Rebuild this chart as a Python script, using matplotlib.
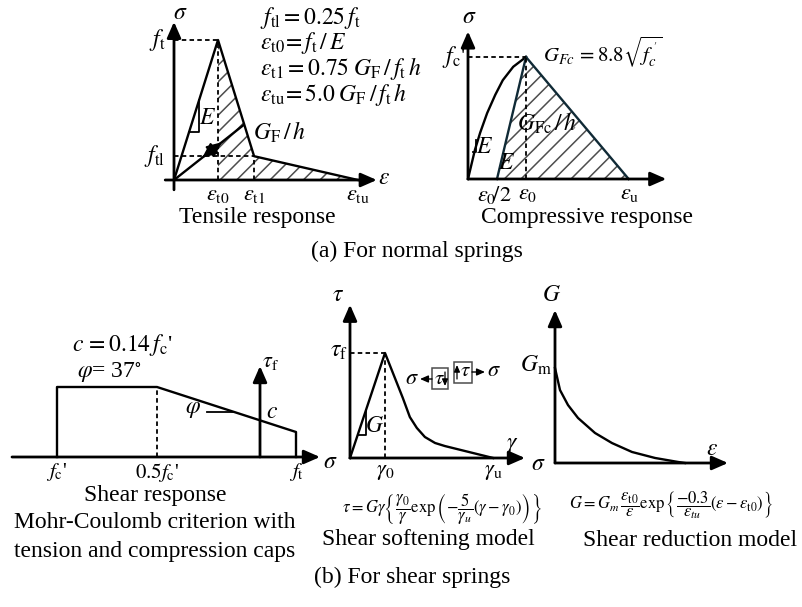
#!/usr/bin/env python3
# -*- coding: utf-8 -*-

import numpy as np
import matplotlib as mpl
from matplotlib import pyplot as plt
from matplotlib.patches import Polygon, Rectangle

W, H = 803, 607

plt.rcParams['font.family'] = ['Liberation Serif', 'DejaVu Serif']
plt.rcParams['mathtext.fontset'] = 'stix'
plt.rcParams['hatch.linewidth'] = 1.1

# tensile response (strain / eps_t0, stress / f_t)
tens_eps = [0.0, 1.0, 1.82, 4.18]
tens_sig = [0.0, 1.0, 0.17, 0.0]
tens_unload_eps = [0.0, 1.57]
tens_unload_sig = [0.0, 0.39]

# compressive response (strain / eps_0, stress / f_c')
comp_eps = [0.0, 0.12, 0.21, 0.33, 0.47, 0.60, 0.78, 1.0]
comp_sig = [0.0, 0.24, 0.38, 0.54, 0.69, 0.81, 0.92, 1.0]
comp_eps_half = 0.5
comp_eps_u = 2.77

# Mohr-Coulomb envelope with caps
mc_sig = [-2.03, -2.03, -1.03, 0.36, 0.36]
mc_tau = [0.0, 0.70, 0.70, 0.25, 0.0]

# shear softening (gamma / gamma_0, tau / tau_f)
soft_gam = [0.0, 1.0, 1.51, 1.71, 1.91, 2.14, 2.43, 2.71, 4.09]
soft_tau = [0.0, 1.0, 0.571, 0.39, 0.286, 0.20, 0.143, 0.114, 0.0]

# shear reduction (G / G_m)
red_eps = [0.0, 0.05, 0.13, 0.23, 0.40, 0.57, 0.77, 1.00, 1.23, 1.30]
red_G = [1.0, 0.768, 0.61, 0.474, 0.316, 0.21, 0.116, 0.053, 0.011, 0.0]

LW = 1.7
DASH = dict(color='k', lw=1.3, ls=(0, (2.5, 1.8)))

fig = plt.figure(figsize=(W/100, H/100), dpi=100)


def panel(ox, oy, sx, sy, x0, x1, y0, y1):
    ax = fig.add_axes([(ox + x0*sx)/W, (H - oy + y0*sy)/H,
                       (x1 - x0)*sx/W, (y1 - y0)*sy/H])
    ax.set_xlim(x0, x1)
    ax.set_ylim(y0, y1)
    ax.axis('off')
    return ax


def arrow(ax, p0, p1, lw=2.0, scale=12, style='-|>,head_length=0.8,head_width=0.35'):
    ax.annotate('', xy=p1, xytext=p0, annotation_clip=False,
                arrowprops=dict(arrowstyle=style, lw=lw, color='k',
                                shrinkA=0, shrinkB=0, mutation_scale=scale))


def hatch(ax, pts):
    ax.add_patch(Polygon(pts, closed=True, fill=False, hatch='//',
                         edgecolor='0.3', lw=0))


# ---- tensile ----
ax = panel(174, 180, 44, 140, -0.6, 4.9, -0.25, 1.3)
hatch(ax, [(tens_eps[1], 0)] + list(zip(tens_eps[1:], tens_sig[1:])))
ax.plot(tens_eps, tens_sig, 'k', lw=LW)
ax.plot([0, tens_eps[1]], [tens_sig[1]]*2, **DASH)
ax.plot([tens_eps[1]]*2, [0, tens_sig[1]], **DASH)
ax.plot([0, tens_eps[2]], [tens_sig[2]]*2, **DASH)
ax.plot([tens_eps[2]]*2, [0, tens_sig[2]], **DASH)
ax.plot(tens_unload_eps, tens_unload_sig, 'k', lw=LW)
arrow(ax, (1.09, 0.27), (0.64, 0.159), lw=1.5, scale=10, style='<|-|>,head_length=0.9,head_width=0.4')
ax.plot([0.57, 0.57, 0.34], [0.57, 0.34, 0.34], 'k', lw=1.3)
arrow(ax, (-0.2, 0), (4.61, 0))
arrow(ax, (0, -0.07), (0, 1.13))
ax.text(0.14, 1.19, r'$\sigma$', fontsize=17, ha='center', va='center')
ax.text(-0.2, 1.0, r'$f_{\rm t}$', fontsize=17, ha='right', va='center')
ax.text(-0.2, 0.17, r'$f_{\rm tl}$', fontsize=17, ha='right', va='center')
for e, s in zip(tens_eps[1:], [r'$\varepsilon_{\rm t0}$', r'$\varepsilon_{\rm t1}$', r'$\varepsilon_{\rm tu}$']):
    ax.text(e, -0.11, s, fontsize=16, ha='center', va='center')
ax.text(4.77, 0.01, r'$\varepsilon$', fontsize=17, ha='center', va='center')
ax.text(0.77, 0.44, r'$E$', fontsize=17, ha='center', va='center')
ax.text(1.8, 0.34, r'$G_{\rm F}\,/\,h$', fontsize=17, ha='left', va='center')
formulas = [r'$f_{\rm tl} = 0.25\, f_{\rm t}$',
            r'$\varepsilon_{\rm t0}\!= f_{\rm t}\,/\,E$',
            r'$\varepsilon_{\rm t1} = 0.75\;G_{\rm F}\,/\,f_{\rm t}\,h$',
            r'$\varepsilon_{\rm tu}\!= 5.0\;G_{\rm F}\,/\,f_{\rm t}\,h$']
for s, y in zip(formulas, [1.16, 0.98, 0.80, 0.614]):
    ax.text(1.95, y, s, fontsize=17, ha='left', va='center')

# ---- compressive ----
ax = panel(468, 179, 58, 122, -0.4, 3.6, -0.3, 1.45)
hatch(ax, [(comp_eps_half, 0), (comp_eps[-1], comp_sig[-1]), (comp_eps_u, 0)])
ax.plot(comp_eps, comp_sig, 'k', lw=LW)
ax.plot([comp_eps_half, comp_eps[-1]], [0, comp_sig[-1]], color='#102a36', lw=LW)
ax.plot([comp_eps[-1], comp_eps_u], [comp_sig[-1], 0], color='#102a36', lw=LW)
ax.plot([0, comp_eps[-1]], [comp_sig[-1]]*2, **DASH)
ax.plot([comp_eps[-1]]*2, [0, comp_sig[-1]], **DASH)
ax.plot([0.14, 0.14, 0.09], [0.32, 0.22, 0.22], 'k', lw=1.3)
arrow(ax, (0, 0), (3.42, 0))
arrow(ax, (0, 0), (0, 1.21))
ax.text(0.03, 1.32, r'$\sigma$', fontsize=17, ha='center', va='center')
ax.text(-0.04, 1.0, r"$f_{\rm c}$'", fontsize=17, ha='right', va='center')
ax.text(0.29, 0.26, r'$E$', fontsize=17, ha='center', va='center')
ax.text(0.67, 0.13, r'$E$', fontsize=17, ha='center', va='center')
ax.text(1.36, 0.46, r'$G_{\rm Fc}\,/\,h$', fontsize=17, ha='center', va='center')
ax.text(1.29, 1.04, r"$G_{Fc}\,=8.8\sqrt{f_c^{\,'}}$", fontsize=15, ha='left', va='center')
for e, s in zip([comp_eps_half, comp_eps[-1], comp_eps_u],
                [r'$\varepsilon_0\!/2$', r'$\varepsilon_0$', r'$\varepsilon_{\rm u}$']):
    ax.text(e + (0.02 if e != comp_eps_half else -0.04), -0.13, s, fontsize=16, ha='center', va='center')

# ---- Mohr-Coulomb ----
ax = panel(260, 457, 100, 100, -2.6, 0.8, -0.35, 1.3)
ax.plot(mc_sig, mc_tau, 'k', lw=LW)
ax.plot([mc_sig[2]]*2, [0, mc_tau[2]], **DASH)
ax.plot([-0.53, -0.26], [0.45, 0.45], 'k', lw=1.3)
arrow(ax, (-2.48, 0), (0.6, 0))
arrow(ax, (0, 0), (0, 0.91))
ax.text(-1.88, 1.12, r"$c\, =0.14\,f_{\rm c}$'", fontsize=17, ha='left', va='center')
ax.text(-1.83, 0.84, r'$\varphi$= 37$^{\circ}$', fontsize=17, ha='left', va='center')
ax.text(0.02, 0.95, r'$\tau_{\rm f}$', fontsize=16, ha='left', va='center')
ax.text(0.12, 0.44, r'$c$', fontsize=17, ha='center', va='center')
ax.text(-0.67, 0.47, r'$\varphi$', fontsize=17, ha='center', va='center')
ax.text(mc_sig[0], -0.15, r"$f_{\rm c}$'", fontsize=15, ha='center', va='center')
ax.text(mc_sig[2], -0.15, r"$0.5f_{\rm c}$'", fontsize=15, ha='center', va='center')
ax.text(mc_sig[3], -0.15, r'$f_{\rm t}$', fontsize=15, ha='center', va='center')
ax.text(0.70, -0.06, r'$\sigma$', fontsize=17, ha='center', va='center')

# ---- shear softening ----
ax = panel(350, 458, 35, 105, -0.8, 5.4, -0.35, 1.6)
ax.plot(soft_gam, soft_tau, 'k', lw=LW)
ax.plot([0, soft_gam[1]], [soft_tau[1]]*2, **DASH)
ax.plot([soft_gam[1]]*2, [0, soft_tau[1]], **DASH)
ax.plot([0.46, 0.46, 0.22], [0.46, 0.22, 0.22], 'k', lw=1.3)
arrow(ax, (0, 0), (5.0, 0))
arrow(ax, (0, 0), (0, 1.46))
ax.text(-0.35, 1.55, r'$\tau$', fontsize=17, ha='center', va='center')
ax.text(-0.06, 1.01, r'$\tau_{\rm f}$', fontsize=17, ha='right', va='center')
ax.text(0.71, 0.30, r'$G$', fontsize=17, ha='center', va='center')
ax.text(4.63, 0.12, r'$\gamma$', fontsize=17, ha='center', va='center')
ax.text(soft_gam[1], -0.14, r'$\gamma_0$', fontsize=16, ha='center', va='center')
ax.text(soft_gam[-1], -0.14, r'$\gamma_{\rm u}$', fontsize=16, ha='center', va='center')

# ---- shear reduction ----
ax = panel(555, 463, 100, 95, -0.3, 1.9, -0.3, 1.9)
ax.plot(red_eps, red_G, 'k', lw=LW)
arrow(ax, (0, 0), (1.73, 0))
arrow(ax, (0, 0), (0, 1.61))
ax.text(-0.03, 1.76, r'$G$', fontsize=17, ha='center', va='center')
ax.text(-0.03, 1.03, r'$G_{\rm m}$', fontsize=17, ha='right', va='center')
ax.text(1.57, 0.14, r'$\varepsilon$', fontsize=17, ha='center', va='center')
ax.text(-0.17, -0.02, r'$\sigma$', fontsize=17, ha='center', va='center')

# ---- overlay in pixel coordinates: captions, stress boxes, formulas ----
ov = fig.add_axes([0, 0, 1, 1])
ov.set_xlim(0, W)
ov.set_ylim(H, 0)
ov.axis('off')
ov.patch.set_alpha(0)

ov.text(412, 380, r'$\sigma$', fontsize=16, ha='center', va='center')
arrow(ov, (432, 379), (420, 379), lw=1.0, scale=6)
ov.add_patch(Rectangle((432, 368), 16, 21, fill=False, lw=1.1, edgecolor='0.3'))
ov.text(439, 379, r'$\tau$', fontsize=15, ha='center', va='center')
arrow(ov, (445, 372), (445, 386), lw=0.9, scale=5)
ov.add_patch(Rectangle((454, 362), 18, 21, fill=False, lw=1.1, edgecolor='0.3'))
ov.text(465, 372, r'$\tau$', fontsize=15, ha='center', va='center')
arrow(ov, (457, 379), (457, 365), lw=0.9, scale=5)
arrow(ov, (472, 372), (485, 372), lw=1.0, scale=6)
ov.text(494, 372, r'$\sigma$', fontsize=16, ha='center', va='center')

ov.text(442, 508, r'$\tau = G\gamma\left\{\dfrac{\gamma_0}{\gamma}\exp\left(-\dfrac{5}{\gamma_u}(\gamma-\gamma_0)\right)\right\}$',
        fontsize=12, ha='center', va='center')
ov.text(671, 505, r'$G = G_m\,\dfrac{\varepsilon_{\rm t0}}{\varepsilon}\exp\left\{\dfrac{-0.3}{\varepsilon_{tu}}(\varepsilon-\varepsilon_{\rm t0})\right\}$',
        fontsize=12, ha='center', va='center')

captions = [('Tensile response', 257, 218), ('Compressive response', 587, 218),
            ('(a) For normal springs', 417, 251), ('Shear response', 155, 495),
            ('Mohr-Coulomb criterion with', 155, 523), ('tension and compression caps', 155, 552),
            ('Shear softening model', 428, 540), ('Shear reduction model', 690, 540),
            ('(b) For shear springs', 412, 577)]
for s, x, y in captions:
    ov.text(x, y, s, fontsize=17, ha='center', va='center')

plt.savefig('out.png', dpi=100)
